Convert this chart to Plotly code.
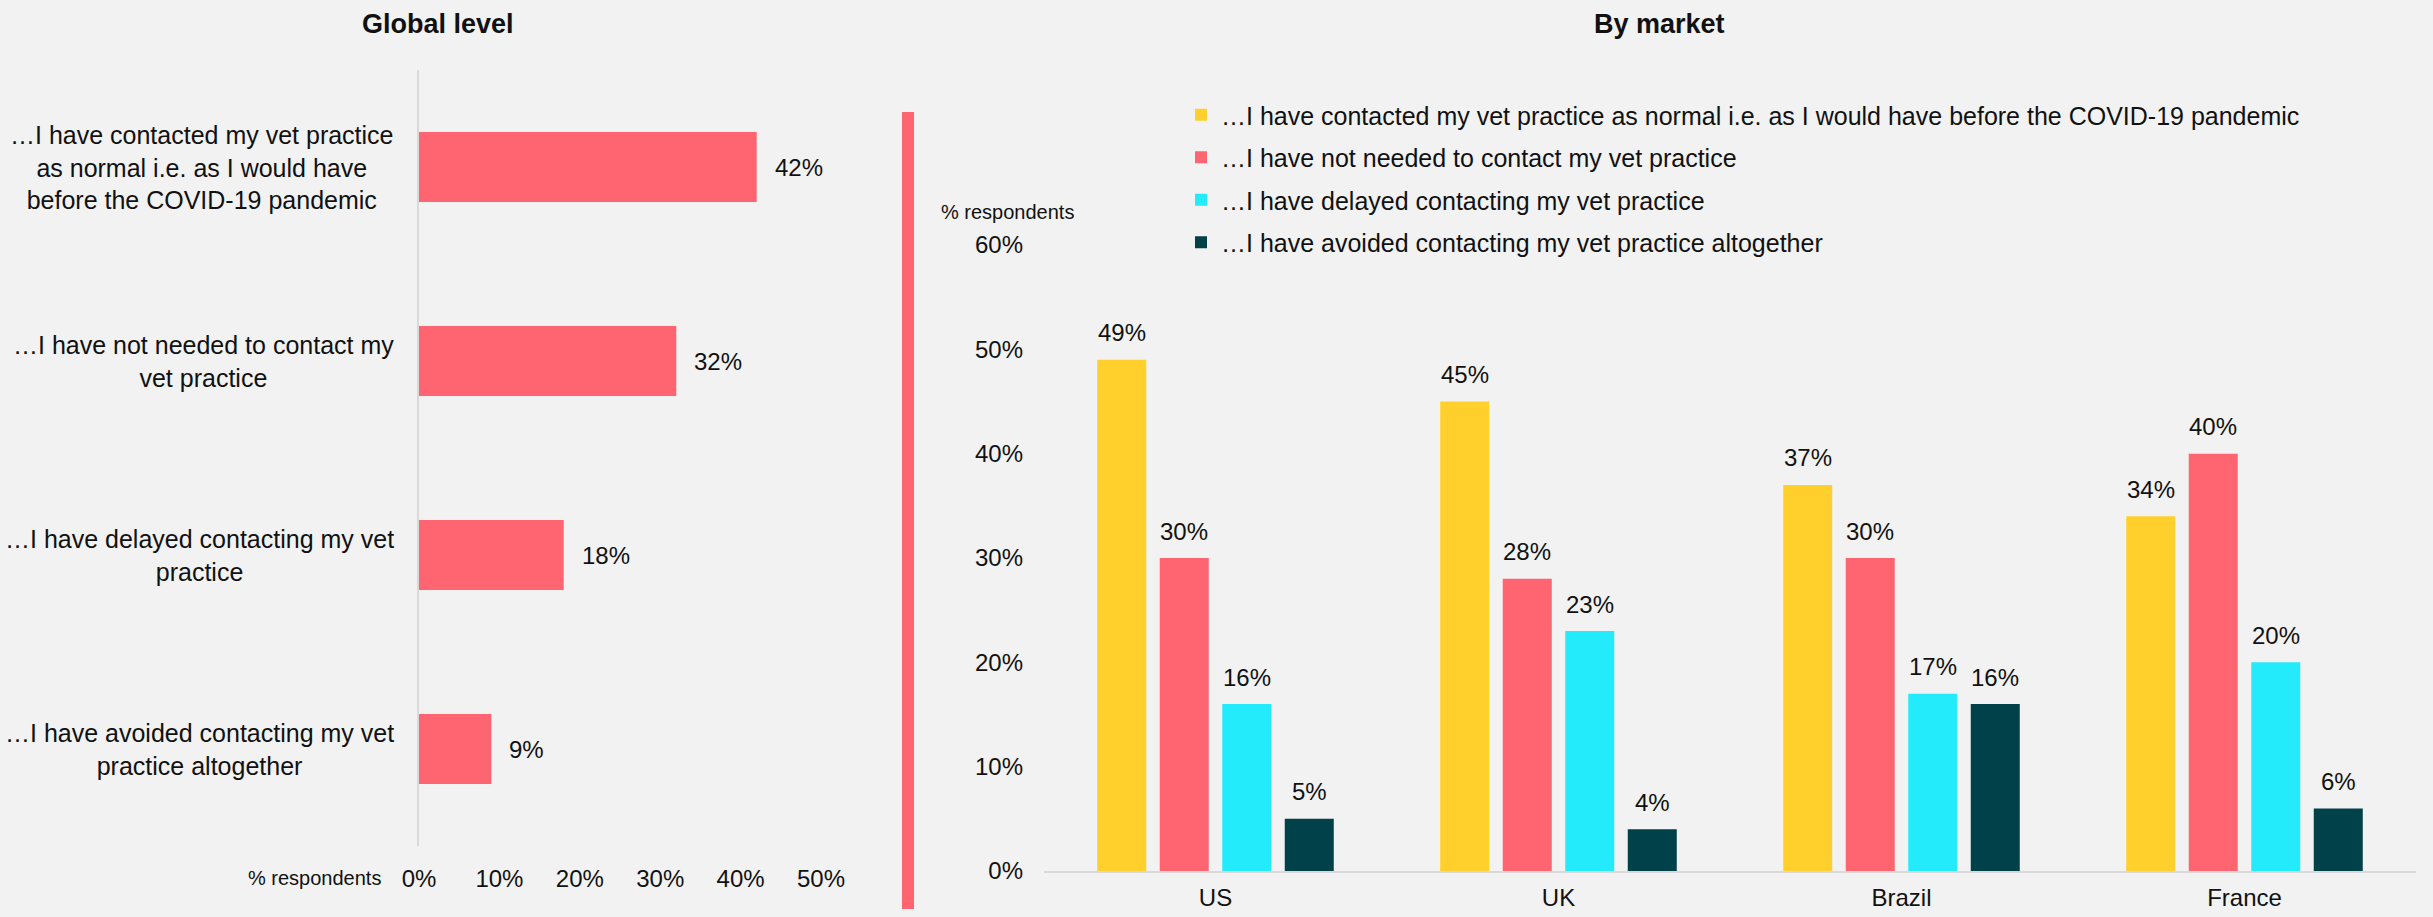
import plotly.graph_objects as go

W, H = 2433, 917

# ---- data -------------------------------------------------------------
statements = [
    "…I have contacted my vet practice as normal i.e. as I would have before the COVID-19 pandemic",
    "…I have not needed to contact my vet practice",
    "…I have delayed contacting my vet practice",
    "…I have avoided contacting my vet practice altogether",
]
statement_labels = [
    "…I have contacted my vet practice<br>as normal i.e. as I would have<br>before the COVID-19 pandemic",
    "…I have not needed to contact my<br>vet practice",
    "…I have delayed contacting my vet<br>practice",
    "…I have avoided contacting my vet<br>practice altogether",
]
global_share = [42, 32, 18, 9]

markets = ["US", "UK", "Brazil", "France"]
contacted_as_normal = [49, 45, 37, 34]
not_needed = [30, 28, 30, 40]
delayed = [16, 23, 17, 20]
avoided = [5, 4, 16, 6]
market_series = [contacted_as_normal, not_needed, delayed, avoided]

left_ticks = [0, 10, 20, 30, 40, 50]
right_ticks = [0, 10, 20, 30, 40, 50, 60]

# ---- styling ----------------------------------------------------------
FONT = "Liberation Sans, Arial, sans-serif"
TEXT = "#111111"
BG = "#F2F2F2"
AXIS_GREY = "#D9D9D9"
series_colors = ["#FFD02B", "#FF6471", "#23EBFC", "#00414A"]
BAR_GAP = 0.271
GROUP_GAP = 0.216


def px_x(p):
    return p / W


def px_y(p):
    return 1 - p / H


def pct(vals):
    return [f"{v}%" for v in vals]


fig = go.Figure()

# Global level: horizontal bars
fig.add_trace(go.Bar(
    x=global_share, y=statements, orientation="h",
    marker=dict(color=series_colors[1], line=dict(width=0)), width=0.36,
    xaxis="x", yaxis="y", showlegend=False, hoverinfo="x+y",
))

# By market: grouped columns
for i, (name, vals) in enumerate(zip(statements, market_series)):
    fig.add_trace(go.Bar(
        x=markets, y=vals, name=name,
        marker=dict(color=series_colors[i], line=dict(width=0)),
        xaxis="x2", yaxis="y2", legendgroup=f"g{i}", offsetgroup=str(i),
    ))

annotations = []

# Category labels for the horizontal bars (centred lines)
for s, lab in zip(statements, statement_labels):
    annotations.append(dict(
        x=px_x(396), xref="paper", xanchor="right", y=s, yref="y",
        yanchor="middle", text=lab, align="center", showarrow=False,
        font=dict(size=25, color=TEXT, family=FONT),
    ))

# Value labels beside horizontal bars
for s, v in zip(statements, global_share):
    annotations.append(dict(
        x=v, xref="x", y=s, yref="y", xanchor="left", yanchor="middle",
        xshift=16, text=f"{v}%", showarrow=False,
        font=dict(size=24, color=TEXT, family=FONT),
    ))

# Value labels above grouped columns
slot = (1 - BAR_GAP) / len(market_series)
for i, vals in enumerate(market_series):
    for j, v in enumerate(vals):
        annotations.append(dict(
            x=j + (i - (len(market_series) - 1) / 2) * slot, xref="x2",
            y=v, yref="y2", xanchor="center", yanchor="middle", yshift=27,
            text=f"{v}%", showarrow=False,
            font=dict(size=24, color=TEXT, family=FONT),
        ))

# Titles and axis captions
annotations += [
    dict(x=px_x(438), y=px_y(24), xref="paper", yref="paper",
         xanchor="center", yanchor="middle",
         text="<b>Global level</b>", showarrow=False,
         font=dict(size=27, color=TEXT, family=FONT)),
    dict(x=px_x(1659), y=px_y(24), xref="paper", yref="paper",
         xanchor="center", yanchor="middle",
         text="<b>By market</b>", showarrow=False,
         font=dict(size=27, color=TEXT, family=FONT)),
    dict(x=px_x(383), y=px_y(878), xref="paper", yref="paper",
         xanchor="right", yanchor="middle", text="% respondents",
         showarrow=False, font=dict(size=20, color=TEXT, family=FONT)),
    dict(x=px_x(1007), y=px_y(212), xref="paper", yref="paper",
         xanchor="center", yanchor="middle", text="% respondents",
         showarrow=False, font=dict(size=20, color=TEXT, family=FONT)),
]

fig.update_layout(
    template="none",
    width=W, height=H, autosize=False,
    margin=dict(l=0, r=0, t=0, b=0, pad=0),
    paper_bgcolor=BG, plot_bgcolor=BG,
    font=dict(family=FONT, size=24, color=TEXT),
    barmode="group", bargap=BAR_GAP, bargroupgap=GROUP_GAP,
    xaxis=dict(
        domain=[px_x(419), px_x(821)], anchor="y", range=[0, 50],
        tickmode="array", tickvals=left_ticks, ticktext=pct(left_ticks),
        showgrid=False, zeroline=False, automargin=False,
        showline=False, ticks="", ticklabelstandoff=16,
        tickfont=dict(size=24, color=TEXT),
    ),
    yaxis=dict(
        domain=[px_y(846), px_y(70)], anchor="x", autorange="reversed",
        showticklabels=False, showgrid=False, zeroline=False,
        automargin=False,
        showline=True, linecolor=AXIS_GREY, linewidth=2, ticks="",
    ),
    xaxis2=dict(
        domain=[px_x(1044), px_x(2416)], anchor="y2", type="category",
        showgrid=False, zeroline=False, showline=True, linecolor=AXIS_GREY,
        linewidth=2, ticks="", ticklabelstandoff=4, automargin=False,
        tickfont=dict(size=24, color=TEXT),
    ),
    yaxis2=dict(
        domain=[px_y(871), px_y(245)], anchor="x2", range=[0, 60],
        tickmode="array", tickvals=right_ticks, ticktext=pct(right_ticks),
        showgrid=False, zeroline=False, showline=False, ticks="",
        ticklabelstandoff=20, automargin=False,
        tickfont=dict(size=24, color=TEXT),
    ),
    legend=dict(
        x=px_x(1181), y=px_y(92), xanchor="left", yanchor="top",
        bgcolor="rgba(0,0,0,0)", borderwidth=0,
        font=dict(size=25, color=TEXT, family=FONT),
        tracegroupgap=7, traceorder="grouped",
    ),
    annotations=annotations,
    shapes=[dict(
        type="line", xref="paper", yref="paper",
        x0=px_x(908), x1=px_x(908), y0=px_y(112), y1=px_y(909),
        line=dict(color=series_colors[1], width=12),
    )],
)

fig.write_html("out.html")
